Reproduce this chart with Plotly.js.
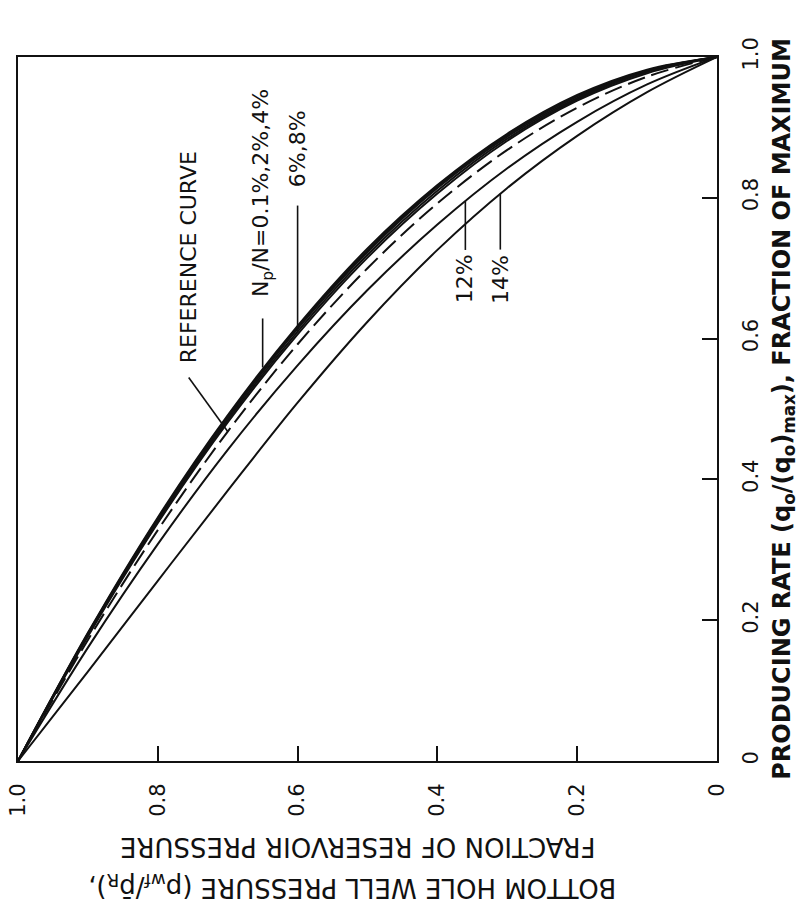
<!DOCTYPE html>
<html>
<head>
<meta charset="utf-8">
<script src="https://cdn.plot.ly/plotly-3.0.1.min.js"></script>
<style>html,body{margin:0;padding:0;background:#fff;}#chart{width:799px;height:916px;}</style>
</head>
<body>
<div id="chart"></div>
<script>
// Bottom-hole pressure pwf/pR (fraction of reservoir pressure)
const pressure = [0, 0.1, 0.2, 0.3, 0.4, 0.5, 0.6, 0.7, 0.8, 0.9, 1.0];
// Producing rate qo/(qo)max for each curve
const rateReference = [1, 0.972, 0.928, 0.868, 0.792, 0.700, 0.592, 0.468, 0.328, 0.172, 0];
const rateNp01 = [1, 0.982, 0.946, 0.891, 0.818, 0.728, 0.618, 0.491, 0.346, 0.182, 0];
const rateNp2  = [1, 0.981, 0.944, 0.889, 0.816, 0.725, 0.616, 0.489, 0.344, 0.181, 0];
const rateNp4  = [1, 0.980, 0.942, 0.887, 0.814, 0.723, 0.614, 0.487, 0.342, 0.180, 0];
const rateNp6  = [1, 0.979, 0.940, 0.884, 0.810, 0.719, 0.610, 0.484, 0.340, 0.179, 0];
const rateNp8  = [1, 0.977, 0.938, 0.881, 0.806, 0.715, 0.606, 0.481, 0.338, 0.177, 0];
const rateNp12 = [1, 0.961, 0.908, 0.842, 0.762, 0.669, 0.562, 0.442, 0.308, 0.161, 0];
const rateNp14 = [1, 0.950, 0.888, 0.814, 0.726, 0.624, 0.509, 0.384, 0.256, 0.127, 0];

const curveNames = ['Reference curve', 'Np/N=0.1%', 'Np/N=2%', 'Np/N=4%', 'Np/N=6%', 'Np/N=8%', 'Np/N=12%', 'Np/N=14%'];
const curveRates = [rateReference, rateNp01, rateNp2, rateNp4, rateNp6, rateNp8, rateNp12, rateNp14];

const pressureTicks = [1, 0.8, 0.6, 0.4, 0.2, 0];
const pressureTickText = ['1.0', '0.8', '0.6', '0.4', '0.2', '0'];
const rateTicks = [0, 0.2, 0.4, 0.6, 0.8, 1];
const rateTickText = ['0', '0.2', '0.4', '0.6', '0.8', '1.0'];

const INK = '#111111';
const FONT = 'DejaVu Sans, Liberation Sans, sans-serif';

const traces = curveRates.map((r, i) => ({
  x: pressure,
  y: r,
  name: curveNames[i],
  type: 'scatter',
  mode: 'lines',
  line: {color: INK, width: 2, shape: 'spline', smoothing: 1, dash: i === 0 ? '18px,7px' : 'solid'},
  hoverinfo: 'skip'
}));

const labelFont = {family: FONT, size: 22, color: INK};

function label(text, x, y, xs, ys) {
  return {text: text, x: x, y: y, xref: 'x', yref: 'y', xshift: xs, yshift: ys,
          showarrow: false, textangle: -90, font: labelFont, xanchor: 'center', yanchor: 'middle'};
}
// leader line from a point on a curve, offsets in pixels (dy positive = up)
function leader(x, y, dx, dy) {
  return {type: 'line', xref: 'x', yref: 'y', xsizemode: 'pixel', ysizemode: 'pixel',
          xanchor: x, yanchor: y, x0: 0, y0: 0, x1: dx, y1: dy,
          line: {color: INK, width: 1.6}};
}

const annotations = [
  label('REFERENCE CURVE', pressure[7], rateReference[7], -39, 174),
  label('N<sub>p</sub>/N=0.1%,2%,4%', 0.65, 0.559, 0, 174),
  label('6%,8%', pressure[6], rateNp6[6], 0, 183),
  label('12%', 0.36, 0.7955, 0, -78),
  label('14%', 0.31, 0.806, 0, -86),
  {text: 'BOTTOM HOLE WELL PRESSURE (p<sub>wf</sub>/p\u0304<sub>R</sub>),', xref: 'paper', yref: 'paper',
   x: 0.478, y: -0.179, showarrow: false, textangle: 180, xanchor: 'center', yanchor: 'middle',
   font: {family: FONT, size: 26, color: INK}},
  {text: 'FRACTION OF RESERVOIR PRESSURE', xref: 'paper', yref: 'paper',
   x: 0.486, y: -0.122, showarrow: false, textangle: 180, xanchor: 'center', yanchor: 'middle',
   font: {family: FONT, size: 26, color: INK}}
];

const shapes = [
  leader(pressure[7], rateReference[7], -39, 54),
  leader(0.65, 0.559, 0, 49),
  leader(pressure[6], rateNp6[6], 0, 126),
  leader(0.36, 0.7955, 0, -49),
  leader(0.31, 0.806, 0, -56)
];

const layout = {
  width: 799, height: 916,
  margin: {l: 18, r: 82, t: 57, b: 155},
  paper_bgcolor: '#ffffff', plot_bgcolor: '#ffffff',
  showlegend: false,
  xaxis: {
    range: [1, 0], tickvals: pressureTicks, ticktext: pressureTickText,
    ticks: 'inside', ticklen: 15, tickwidth: 2, tickcolor: INK, tickangle: -90,
    ticklabelstandoff: 12,
    showline: true, linewidth: 2, linecolor: INK, mirror: true,
    showgrid: false, zeroline: false,
    tickfont: {family: FONT, size: 21, color: INK}
  },
  yaxis: {
    side: 'right', range: [0, 1], tickvals: rateTicks, ticktext: rateTickText,
    ticks: 'inside', ticklen: 15, tickwidth: 2, tickcolor: INK, tickangle: -90,
    ticklabelstandoff: 14,
    showline: true, linewidth: 2, linecolor: INK, mirror: true,
    showgrid: false, zeroline: false,
    tickfont: {family: FONT, size: 21, color: INK},
    title: {text: 'PRODUCING RATE (q<sub>o</sub>/(q<sub>o</sub>)<sub>max</sub>), FRACTION OF MAXIMUM',
            standoff: 22, font: {family: FONT, size: 24, color: INK, weight: 'bold'}}
  },
  annotations: annotations,
  shapes: shapes
};

Plotly.newPlot('chart', traces, layout, {displayModeBar: false, staticPlot: true});
</script>
</body>
</html>
